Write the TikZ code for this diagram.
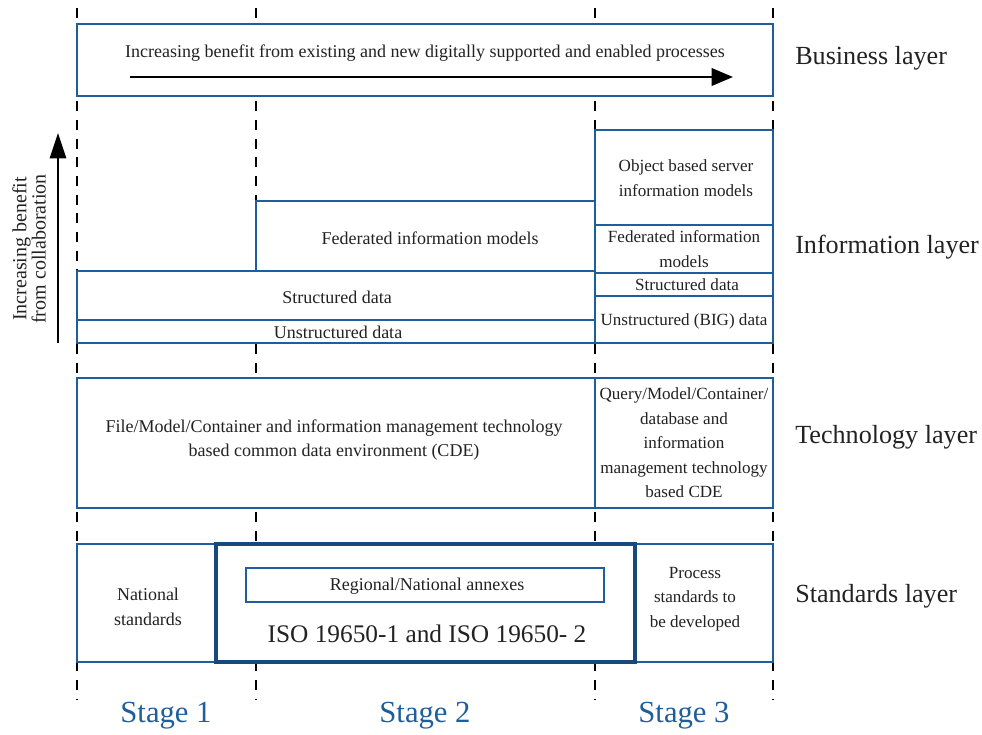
\documentclass[tikz,border=0pt]{standalone}
\usepackage{fontspec}
\setmainfont{Liberation Serif}
\usetikzlibrary{arrows.meta}
\definecolor{layerblue}{HTML}{1F5E9C}
\definecolor{darkblue}{HTML}{17497D}
\definecolor{inkgrey}{HTML}{222222}
\begin{document}
\begin{tikzpicture}[x=0.75pt,y=-0.75pt,
  box/.style={draw=layerblue,line width=1.5pt,fill=white},
  thin/.style={draw=layerblue,line width=0.9pt},
  txt/.style={align=center,font=\fontsize{13.5}{18.4}\selectfont,text=inkgrey,inner sep=0pt},
  coltxt/.style={txt,font=\fontsize{12.8}{18.4}\selectfont},
  layer/.style={anchor=west,font=\fontsize{19.6}{22}\selectfont,text=inkgrey,inner sep=0pt},
  stage/.style={font=\fontsize{23}{26}\selectfont,text=layerblue,inner sep=0pt},
  guide/.style={dash pattern=on 7.5pt off 6.5pt,line width=1.3pt}]
\useasboundingbox (0,0) rectangle (982,735);
% stage guides
\foreach \x in {77,256,595,773}
  \draw[guide] (\x,8) -- (\x,700);

% business layer
\draw[box] (77,24) rectangle (773,96);
\node[txt] (bustext) at (425,53) {Increasing benefit from existing and new digitally supported and enabled processes};
\coordinate (busa) at (130,77);
\coordinate (busb) at (733,77);
\draw[line width=2pt,-{Triangle[length=16pt,width=13pt]}] (busa) -- (busb);
\node[layer] (buslayer) at (795,58) {Business layer};

% information layer
\draw[box] (77,343) -- (77,271) -- (256,271) -- (256,201) -- (595,201)
  -- (595,130) -- (773,130) -- (773,343) -- cycle;
\draw[thin] (77,271) -- (595,271)
  (77,320) -- (595,320)
  (595,130) -- (595,343)
  (595,225) -- (773,225)
  (595,273) -- (773,273)
  (595,296) -- (773,296);
\node[txt] (fedmod) at (430,238) {Federated information models};
\node[txt] (strdata) at (337,297) {Structured data};
\node[txt] (unsdata) at (338,332) {Unstructured data};
\node[coltxt] (objmod) at (686,178) {Object based server\\information models};
\node[coltxt] (fedmodb) at (684,249) {Federated information\\models};
\node[coltxt] (strdatab) at (687,285) {Structured data};
\node[coltxt] (bigdata) at (684,321) {Unstructured (BIG) data};
\coordinate (colla) at (58,343);
\coordinate (collb) at (58,133);
\draw[line width=2pt,-{Triangle[length=19pt,width=12pt]}] (colla) -- (collb);
\node[txt,rotate=90,font=\fontsize{15}{14.5}\selectfont] (colltext) at (29,249) {Increasing benefit\\from collaboration};
\node[layer] (infolayer) at (795,247) {Information layer};

% technology layer
\draw[box] (77,378) rectangle (773,508);
\draw[thin] (595,378) -- (595,508);
\node[txt] (filecde) at (334,440) {File/Model/Container and information management technology\\based common data environment (CDE)};
\node[coltxt] (querycde) at (684,443) {Query/Model/Container/\\database and\\information\\management technology\\based CDE};
\node[layer] (techlayer) at (795,437) {Technology layer};

% standards layer
\draw[box] (77,544) rectangle (773,662);
\draw[draw=darkblue,line width=3pt,fill=white] (216,544) rectangle (635,662);
\draw[thin,line width=1.1pt] (246,568) rectangle (604,602);
\node[txt] (annex) at (427,586) {Regional/National annexes};
\node[txt,font=\fontsize{19}{22}\selectfont] (iso) at (427,634) {ISO 19650-1 and ISO 19650- 2};
\node[txt] (natstd) at (148,607) {National\\standards};
\node[coltxt] (procstd) at (695,599) {Process\\standards to\\be developed};
\node[layer] (stdlayer) at (795,596) {Standards layer};

% stages
\node[stage] (stage1) at (166,716) {Stage 1};
\node[stage] (stage2) at (425,716) {Stage 2};
\node[stage] (stage3) at (684,716) {Stage 3};
\end{tikzpicture}
\end{document}
